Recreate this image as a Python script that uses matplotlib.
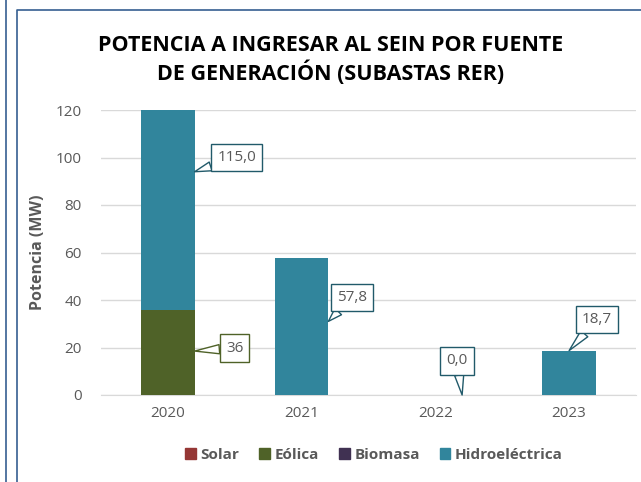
import numpy as np
import matplotlib.pyplot as plt
from matplotlib.patches import Rectangle
from matplotlib.lines import Line2D

plt.rcParams['font.family'] = ['Open Sans', 'DejaVu Sans']

years = ["2020", "2021", "2022", "2023"]
solar = [0, 0, 0, 0]
eolica = [36, 0, 0, 0]
biomasa = [0, 0, 0, 0]
hidro = [115.0, 57.8, 0.0, 18.7]
series = ["Solar", "Eólica", "Biomasa", "Hidroeléctrica"]
colors = ["#953735", "#4F6228", "#403152", "#31859C"]

fig = plt.figure(figsize=(6.41, 4.82), dpi=100)
ax = fig.add_axes([101 / 641, 87 / 482, 535 / 641, 285 / 482])

x = np.arange(len(years))
w = 0.4
bottom = np.zeros(len(years))
for name, vals, c in zip(series, [solar, eolica, biomasa, hidro], colors):
    ax.bar(x, vals, w, bottom=bottom, color=c, label=name, zorder=3)
    bottom += np.array(vals)

ax.set_ylim(0, 120)
ax.set_xlim(-0.5, 3.5)
ax.set_yticks(np.arange(0, 121, 20))
ax.set_xticks(x)
ax.set_xticklabels(years)
ax.tick_params(length=0, labelsize=11, colors="#595959", pad=8)
ax.tick_params(axis="y", pad=14)
ax.grid(axis="y", color="#D9D9D9", linewidth=1, zorder=0)
for s in ["top", "right", "left"]:
    ax.spines[s].set_visible(False)
ax.spines["bottom"].set_color("#D9D9D9")
ax.set_ylabel("Potencia (MW)", fontsize=11.5, fontweight="bold", color="#595959", labelpad=7)

# callouts
dark = "#215A6A"
callouts = [
    ("115,0", (0 + w / 2, 94), (42, 14), dark),
    ("36", (0 + w / 2, 18.5), (40, 3), colors[1]),
    ("57,8", (1 + w / 2, 31), (24, 24), dark),
    ("0,0", (2.2, 0), (-5, 34), dark),
    ("18,7", (3.0, hidro[3]), (28, 31), dark),
]
for txt, xy, off, c in callouts:
    ax.annotate(txt, xy=xy, xytext=off, textcoords="offset pixels",
                ha="center", va="center", fontsize=11, color="#595959",
                bbox=dict(boxstyle="square,pad=0.4", fc="white", ec=c, lw=1),
                arrowprops=dict(arrowstyle="wedge,tail_width=0.6", fc="white",
                                ec=c, lw=1, shrinkA=0, shrinkB=0),
                zorder=5, annotation_clip=False)

fig.text(331 / 641, 1 - 60 / 482, "POTENCIA A INGRESAR AL SEIN POR FUENTE\nDE GENERACIÓN (SUBASTAS RER)",
         ha="center", va="center", fontsize=15.5, fontweight="bold", color="black", linespacing=1.25)

handles = [Rectangle((0, 0), 1, 1, color=c) for c in colors]
fig.legend(handles, series, loc="center", bbox_to_anchor=(374 / 641, 1 - 455 / 482), ncol=4,
           frameon=False, handlelength=0.7, handleheight=0.7, handletextpad=0.3, columnspacing=1.3,
           prop=dict(size=11, weight="bold"), labelcolor="#595959")

# frames
fig.add_artist(Line2D([5.5 / 641, 5.5 / 641], [0, 1], color="#365F91", lw=1.2, transform=fig.transFigure))
fig.add_artist(Line2D([16.5 / 641, 16.5 / 641, 1], [0, 1 - 10 / 482, 1 - 10 / 482], color="#365F91",
                      lw=1.2, transform=fig.transFigure))

fig.savefig("out.png", dpi=100)
